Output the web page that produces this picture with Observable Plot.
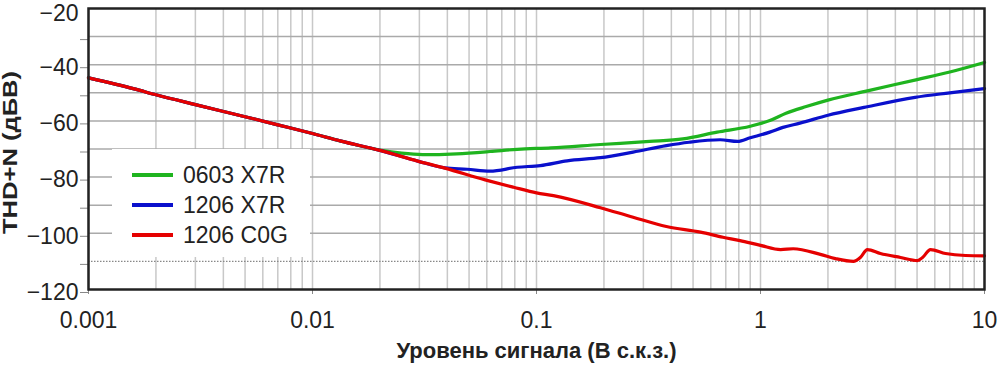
<!DOCTYPE html>
<html><head><meta charset="utf-8">
<script src="https://cdn.jsdelivr.net/npm/d3@7"></script>
<script src="https://cdn.jsdelivr.net/npm/@observablehq/plot@0.6"></script>
<style>
body{margin:0;background:#fff;font-family:"Liberation Sans",Arial,sans-serif;}
#wrap{position:relative;width:1000px;height:371px;}
#legend{position:absolute;left:112px;top:149px;width:198px;height:108px;background:#fff;}
.item{position:absolute;left:20px;height:30px;display:flex;align-items:center;font-size:23px;color:#222;white-space:nowrap;}
.sw{width:41px;height:4px;margin-right:10px;}
</style></head><body><div id="wrap"></div>
<script>
const seriesNames = ["0603 X7R","1206 X7R","1206 C0G"];
const seriesColors = ["#1fb41f","#0a10cc","#e50000"];

const greenX = [0.001,0.0016,0.002,0.003,0.005,0.007,0.01,0.0134,0.02,0.025,0.031,0.044,0.062,0.082,0.116,0.193,0.32,0.45,0.64,0.9,1.1,1.3,1.6,2,3,5,7,10];
const greenY = [-44.7,-48.6,-50.7,-54.2,-58.5,-61.4,-64.5,-67.2,-70.4,-71.5,-72.0,-71.7,-70.9,-70.1,-69.6,-68.4,-67.3,-66.4,-64.0,-61.9,-59.9,-57.3,-54.9,-52.6,-49.3,-45.3,-42.6,-39.2];

const blueX = [0.001,0.0016,0.002,0.003,0.005,0.007,0.01,0.0134,0.02,0.0295,0.039,0.049,0.062,0.082,0.104,0.137,0.193,0.27,0.38,0.48,0.66,0.79,0.9,1.1,1.26,1.5,2,2.9,4.9,7,10];
const blueY = [-44.7,-48.6,-50.7,-54.2,-58.5,-61.4,-64.5,-67.2,-70.5,-74.3,-76.7,-77.2,-77.9,-76.5,-75.9,-74.2,-73.1,-71.1,-68.8,-67.6,-66.7,-67.3,-66,-64,-62.3,-60.8,-58,-55.2,-51.6,-50,-48.5];

const redX = [0.001,0.0016,0.002,0.003,0.005,0.007,0.01,0.0134,0.02,0.0295,0.039,0.059,0.079,0.1,0.119,0.193,0.27,0.38,0.54,0.68,0.81,1,1.23,1.4,1.85,2.16,2.6,2.79,3.0,3.43,4.22,5.02,5.29,5.74,6.7,8.23,10];
const redY = [-44.7,-48.6,-50.7,-54.2,-58.5,-61.4,-64.5,-67.2,-70.5,-74.3,-76.8,-81.0,-83.6,-85.6,-86.6,-90.9,-94.3,-97.6,-99.6,-101.4,-102.6,-104.3,-105.8,-105.5,-107.5,-109.0,-110.0,-108.6,-105.8,-107.2,-108.6,-109.7,-108.6,-105.8,-107.2,-107.9,-108.0];

const xTicks = [0.001,0.01,0.1,1,10];
const xTickLabels = ["0.001","0.01","0.1","1","10"];
const yTopTick = [-20];
const yTopLabel = ["−20"];
const yTicks = [-30,-40,-50,-60,-70,-80,-90,-100,-110,-120];
const yTickLabels = ["","−40","","−60","","−80","","−100","","−120"];
const hGrid = [-30,-40,-50,-60,-70,-80,-90,-100];
const dottedGrid = [-110];
const decades = [0.001,0.01,0.1,1];
const multipliers = [1,2,3,4,5,6,7,8,9];

const xTitle = "Уровень сигнала (В с.к.з.)";
const yTitle = "THD+N (дБВ)";

const minorX = [];
decades.forEach(d => multipliers.forEach(m => minorX.push(d*m)));
minorX.push(10);

const rows = (name, xs, ys) => xs.map((x, i) => ({series: name, x, y: ys[i]}));
const data = [
  ...rows(seriesNames[0], greenX, greenY),
  ...rows(seriesNames[1], blueX, blueY),
  ...rows(seriesNames[2], redX, redY)
];

const chart = Plot.plot({
  width: 1000, height: 371,
  marginLeft: 88, marginRight: 16, marginTop: 8, marginBottom: 82,
  style: {fontFamily: '"Liberation Sans", Arial, sans-serif', fontSize: "23px", color: "#222", background: "#fff", overflow: "visible"},
  x: {type: "log", domain: [0.001, 10]},
  y: {domain: [-120, -20]},
  color: {domain: seriesNames, range: seriesColors},
  marks: [
    Plot.ruleX(minorX, {stroke: "#c8c8c8", strokeWidth: 1.5}),
    Plot.ruleY(hGrid, {stroke: "#aaa", strokeWidth: 1.5}),
    Plot.ruleY(dottedGrid, {stroke: "#888", strokeWidth: 1.2, strokeDasharray: "1.5,1.5"}),
    Plot.axisX({ticks: xTicks, tickFormat: d => xTickLabels[xTicks.indexOf(d)], tickSize: 5, tickPadding: 17, fontSize: 23, stroke: "#888", fill: "#222", label: null}),
    Plot.axisY({ticks: yTicks, tickFormat: d => yTickLabels[yTicks.indexOf(d)], tickSize: 8, tickPadding: 2, fontSize: 23, stroke: "#888", fill: "#222", label: null, dy: 3}),
    Plot.axisY({ticks: yTopTick, tickFormat: d => yTopLabel[yTopTick.indexOf(d)], tickSize: 0, tickPadding: 10, fontSize: 23, fill: "#222", label: null, dy: 5.5}),
    Plot.line(data, {x: "x", y: "y", z: "series", stroke: "series", strokeWidth: 3.2, strokeLinejoin: "round", curve: "monotone-x"}),
    Plot.frame({stroke: "#222", strokeWidth: 2.5}),
    Plot.text([xTitle], {text: d => d, frameAnchor: "bottom", dy: 68, fontWeight: "bold", fontSize: 22, fill: "#222"}),
    Plot.text([yTitle], {text: d => d, frameAnchor: "left", textAnchor: "middle", dx: -78, dy: 3.5, rotate: -90, fontWeight: "bold", fontSize: 21, fill: "#222"})
  ]
});

const wrap = document.getElementById("wrap");
wrap.appendChild(chart);
chart.querySelectorAll("text").forEach(t => {
  if (t.textContent === yTitle) {
    t.setAttribute("textLength", "163");
    t.setAttribute("lengthAdjust", "spacingAndGlyphs");
  }
});
const legend = document.createElement("div");
legend.id = "legend";
seriesNames.forEach((name, i) => {
  const it = document.createElement("div");
  it.className = "item";
  it.style.top = (11 + i * 30) + "px";
  const sw = document.createElement("span");
  sw.className = "sw";
  sw.style.background = seriesColors[i];
  const tx = document.createElement("span");
  tx.textContent = name;
  it.appendChild(sw); it.appendChild(tx);
  legend.appendChild(it);
});
wrap.appendChild(legend);
</script>
</body></html>
